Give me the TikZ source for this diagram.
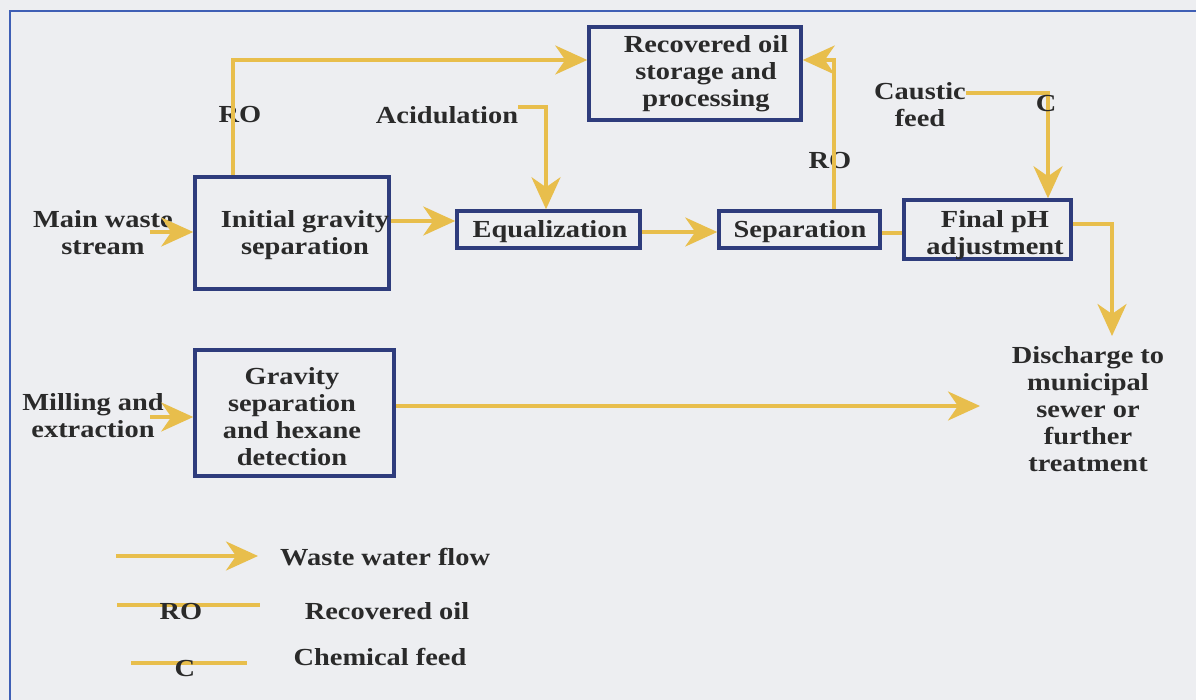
\documentclass[tikz,border=0pt]{standalone}
\usepackage{fontspec}
\setmainfont{Liberation Serif}[FakeStretch=1.16]
\usetikzlibrary{arrows.meta}
\definecolor{bg}{HTML}{EDEEF1}
\definecolor{frameblue}{HTML}{3F5FB5}
\definecolor{navy}{HTML}{2E3C7C}
\definecolor{gold}{HTML}{E8BE4C}
\definecolor{ink}{HTML}{2A2A2A}
\begin{document}
\begin{tikzpicture}[x=1pt,y=-1pt,
  box/.style={draw=navy,line width=3.5pt,minimum width=#1},
  txt/.style={text=ink,font=\fontsize{24.5}{27}\selectfont\bfseries,align=center,inner sep=0pt},
  flow/.style={draw=gold,line width=3.5pt,-{Stealth[length=32pt,width=29pt,inset=10pt]}},
  oil/.style={draw=gold,line width=3.2pt},
  frameline/.style={draw=frameblue,line width=1.8pt}]
\fill[bg] (0,0) rectangle (1196,700);
\useasboundingbox (0,0) rectangle (1196,700);
\draw[frameline] (1200,11) -- (10,11) -- (10,704);
% boxes
\node[box=194pt,minimum height=112pt] (init) at (292,233) {};
\node[box=183pt,minimum height=37pt] (eq) at (548.5,229.5) {};
\node[box=212pt,minimum height=93pt] (rec) at (695,73.5) {};
\node[box=161pt,minimum height=37pt] (sep) at (799.5,229.5) {};
\node[box=167pt,minimum height=59pt] (ph) at (987.5,229.5) {};
\node[box=199pt,minimum height=126pt] (grav) at (294.5,413) {};
% box texts
\node[txt] (initT) at (305,235) {Initial gravity\\separation};
\node[txt] (eqT) at (550,232) {Equalization};
\node[txt] (recT) at (706,74) {Recovered oil\\storage and\\processing};
\node[txt] (sepT) at (800,232) {Separation};
\node[txt] (phT) at (995,235) {Final pH\\adjustment};
\node[txt] (gravT) at (292,417) {Gravity\\separation\\and hexane\\detection};
% free texts
\node[txt] (main) at (103,233) {Main waste\\stream};
\node[txt] (mill) at (93,416) {Milling and\\extraction};
\node[txt] (acid) at (447,115) {Acidulation};
\node[txt] (ro1) at (240,115) {RO};
\node[txt] (ro2) at (830,161) {RO};
\node[txt] (caus) at (920,105) {Caustic\\feed};
\node[txt] (dis) at (1088,409) {Discharge to\\municipal\\sewer or\\further\\treatment};
% coordinates
\coordinate (mainS) at (150,232);
\coordinate (millS) at (150,417);
\coordinate (y221) at (0,221);
\coordinate (y232) at (0,232);
\coordinate (y233) at (0,233);
\coordinate (y60) at (0,60);
\coordinate (y107) at (0,107);
\coordinate (y93) at (0,93);
\coordinate (y224) at (0,224);
\coordinate (y406) at (0,406);
\coordinate (x233) at (233,0);
\coordinate (x546) at (546,0);
\coordinate (x834) at (834,0);
\coordinate (x1048) at (1048,0);
\coordinate (dTop) at (1112,336);
\coordinate (gEnd) at (980,406);
% connectors
\draw[flow] (mainS) -- (init.west |- y232);
\draw[flow] (millS) -- (grav.west |- 0,417);
\draw[flow] (init.east |- y221) -- (eq.west |- y221);
\draw[flow] (x233 |- init.north) |- (rec.west |- y60);
\draw[flow] (acid.east |- y107) -| (x546 |- eq.north);
\draw[flow] (eq.east |- y232) -- (sep.west |- y232);
\draw[oil] (sep.east |- y233) -- (ph.west |- y233);
\draw[flow] (x834 |- sep.north) |- (rec.east |- y60);
\draw[flow] (caus.east |- y93) -| (x1048 |- ph.north);
\draw[flow] (ph.east |- y224) -| (dTop);
\draw[flow] (grav.east |- y406) -- (gEnd);
\node[txt] (c1) at (1046,104) {C};
% legend
\coordinate (l1a) at (116,556); \coordinate (l1b) at (258,556);
\coordinate (l2a) at (117,605); \coordinate (l2b) at (260,605);
\coordinate (l3a) at (131,663); \coordinate (l3b) at (247,663);
\draw[flow] (l1a) -- (l1b);
\draw[oil] (l2a) -- (l2b);
\draw[oil] (l3a) -- (l3b);
\node[txt] (lro) at (181,612) {RO};
\node[txt] (lc) at (185,669) {C};
\node[txt,anchor=west] (lt1) at (280,557) {Waste water flow};
\node[txt] (lt2) at (387,611) {Recovered oil};
\node[txt] (lt3) at (380,657) {Chemical feed};
\end{tikzpicture}
\end{document}
